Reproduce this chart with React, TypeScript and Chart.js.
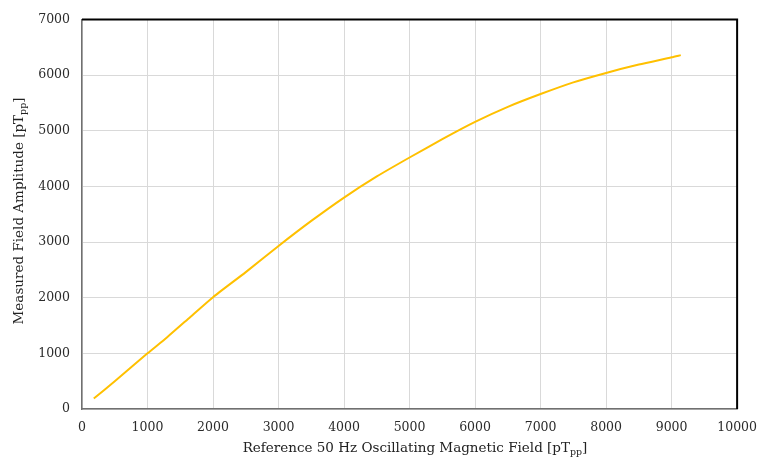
import { Chart, registerables } from "chart.js";
import { useEffect, useRef } from "react";
Chart.register(...registerables);

// reference field (x) and what the sensor measured (y), both pT peak-to-peak
const referenceField = [180, 500, 1000, 1300, 1650, 2000, 2500, 3000, 3500, 4000, 4500, 5000, 5500, 6000, 6500, 7000, 7500, 8000, 8500, 9000, 9140];
const measuredField = [187, 500, 1000, 1290, 1650, 2010, 2460, 2930, 3380, 3800, 4180, 4520, 4850, 5160, 5430, 5660, 5870, 6040, 6190, 6320, 6360];

const xTitle = "Reference 50 Hz Oscillating Magnetic Field [pT";
const yTitle = "Measured Field Amplitude [pT";
const subText = "pp";

const FONT = "'DejaVu Serif', serif";

// draws "text + subscript + ]" centred on cx along the baseline at y=0
function drawSubTitle(ctx: CanvasRenderingContext2D, main: string, cx: number, size: number) {
  ctx.font = `${size}px ${FONT}`;
  const w1 = ctx.measureText(main).width;
  const w3 = ctx.measureText("]").width;
  ctx.font = `${size * 0.7}px ${FONT}`;
  const w2 = ctx.measureText(subText).width;
  let x = cx - (w1 + w2 + w3) / 2;
  ctx.textAlign = "left";
  ctx.textBaseline = "alphabetic";
  ctx.font = `${size}px ${FONT}`;
  ctx.fillText(main, x, 0);
  x += w1;
  ctx.font = `${size * 0.7}px ${FONT}`;
  ctx.fillText(subText, x, size * 0.25);
  x += w2;
  ctx.font = `${size}px ${FONT}`;
  ctx.fillText("]", x, 0);
}

const framePlugin = {
  id: "frame",
  afterDraw(chart: Chart) {
    const { ctx, chartArea } = chart;
    ctx.save();
    // black top and right edge
    ctx.strokeStyle = "#000";
    ctx.lineWidth = 2;
    ctx.beginPath();
    ctx.moveTo(chartArea.left, chartArea.top);
    ctx.lineTo(chartArea.right, chartArea.top);
    ctx.lineTo(chartArea.right, chartArea.bottom);
    ctx.stroke();

    ctx.fillStyle = "#222";
    ctx.save();
    ctx.translate(0, 452);
    drawSubTitle(ctx, xTitle, 415, 13.5);
    ctx.restore();

    ctx.save();
    ctx.translate(23, 0);
    ctx.rotate(-Math.PI / 2);
    drawSubTitle(ctx, yTitle, -211, 13.5);
    ctx.restore();
    ctx.restore();
  },
};

function FieldChart() {
  const chartRef = useRef<HTMLCanvasElement | null>(null);
  const chartInstance = useRef<Chart | null>(null);

  useEffect(() => {
    document.body.style.margin = "0";
    const ctx = chartRef.current?.getContext("2d");
    if (chartInstance.current) {
      chartInstance.current.destroy();
    }
    if (ctx) {
      chartInstance.current = new Chart(ctx, {
        type: "scatter",
        data: {
          datasets: [
            {
              label: "Measured",
              data: referenceField.map((x, i) => ({ x, y: measuredField[i] })),
              showLine: true,
              borderColor: "#FFC000",
              borderWidth: 2,
              pointRadius: 0,
              tension: 0.2,
            },
          ],
        },
        options: {
          responsive: true,
          maintainAspectRatio: false,
          animation: false,
          layout: { padding: { top: 18, right: 30, left: 0, bottom: 0 } },
          plugins: {
            legend: { display: false },
            tooltip: { enabled: false },
          },
          scales: {
            x: {
              type: "linear",
              min: 0,
              max: 10000,
              afterFit: (s: any) => {
                s.height = 54;
              },
              ticks: {
                stepSize: 1000,
                padding: 11,
                color: "#2b2b2b",
                font: { family: FONT, size: 12.5 },
                callback: (v: any) => String(v),
              },
              grid: { color: "#d9d9d9", drawTicks: false },
              border: { color: "#707070", width: 1.5 },
            },
            y: {
              min: 0,
              max: 7000,
              afterFit: (s: any) => {
                s.width = 82;
              },
              ticks: {
                stepSize: 1000,
                padding: 12,
                color: "#2b2b2b",
                font: { family: FONT, size: 12.5 },
                callback: (v: any) => String(v),
              },
              grid: { color: "#d9d9d9", drawTicks: false },
              border: { color: "#707070", width: 1.5 },
            },
          },
        },
        plugins: [framePlugin],
      });
    }
    return () => {
      if (chartInstance.current) {
        chartInstance.current.destroy();
      }
    };
  }, []);

  return (
    <div style={{ width: 768, height: 463, position: "relative" }}>
      <canvas ref={chartRef} />
    </div>
  );
}

export default function App() {
  return <FieldChart />;
}
